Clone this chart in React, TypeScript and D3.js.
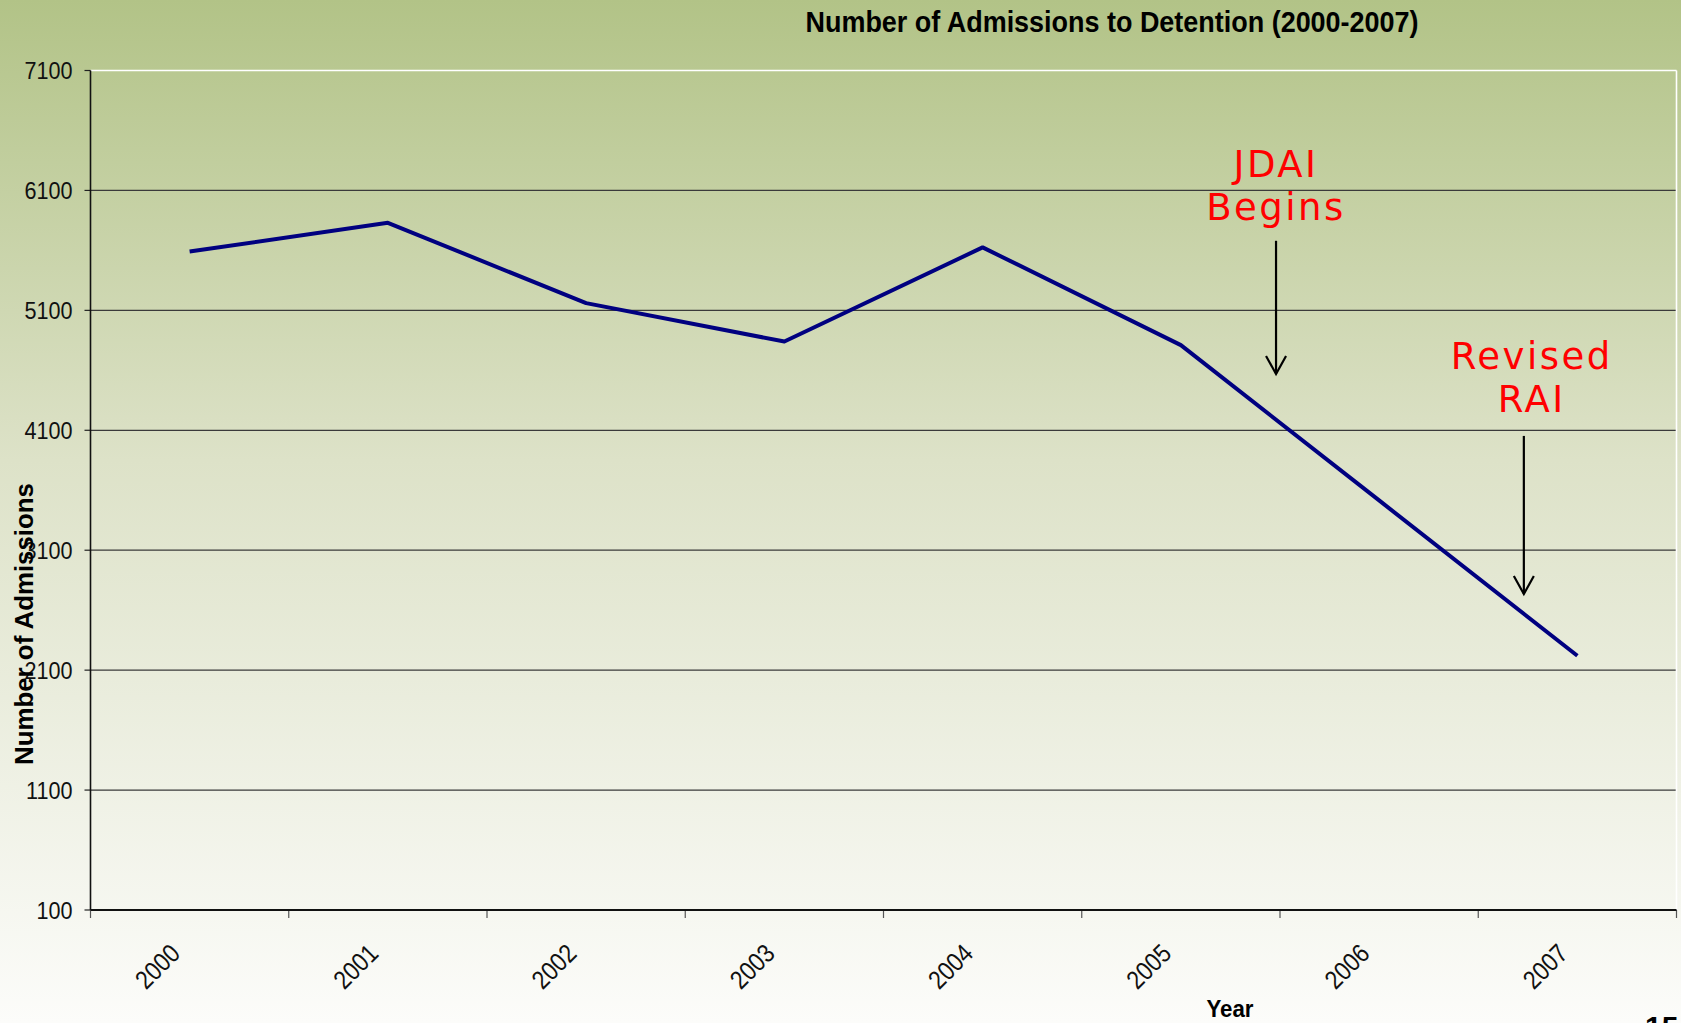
import React from "react";
import * as d3 from "d3";

const years = ["2000", "2001", "2002", "2003", "2004", "2005", "2006", "2007"];
const admissions = [5590, 5830, 5160, 4840, 5625, 4810, 3515, 2220];
const yTicks = [100, 1100, 2100, 3100, 4100, 5100, 6100, 7100];
const titleText = "Number of Admissions to Detention (2000-2007)";
const xTitle = "Year";
const yTitle = "Number of Admissions";
// annotations: position in category-index units and data units
const annotations = [
  { lines: ["JDAI", "Begins"], xi: 5.48, textDxi: 0.0, textY: [6213, 5855], arrowFrom: 5680, arrowTo: 4570 },
  { lines: ["Revised", "RAI"], xi: 6.73, textDxi: 0.04, textY: [4612, 4254], arrowFrom: 4053, arrowTo: 2735 },
];

const W = 1681;
const H = 1023;
const left = 90.5;
const right = 1676.5;
const top = 70.5;
const bottom = 910;

export default function App() {
  const x = d3.scaleBand<string>().domain(years).range([left, right]).padding(0);
  const bw = x.bandwidth();
  const y = d3.scaleLinear().domain([100, 7100]).range([bottom, top]);
  const xi = d3.scaleLinear().domain([-0.5, years.length - 0.5]).range([left, right]);
  const line = d3
    .line<number>()
    .x((_, i) => (x(years[i]) as number) + bw / 2)
    .y((d) => y(d));

  const narrow = "'Liberation Sans', Arial, sans-serif";

  return (
    <svg
      width={W}
      height={H}
      style={{ position: "fixed", left: 0, top: 0 }}
      xmlns="http://www.w3.org/2000/svg"
    >
      <defs>
        <linearGradient id="bg" x1="0" y1="0" x2="0" y2="1">
          <stop offset="0%" stopColor="#b2c387" />
          <stop offset="45%" stopColor="#dde2c8" />
          <stop offset="100%" stopColor="#fcfcfa" />
        </linearGradient>
      </defs>
      <rect x={0} y={0} width={W} height={H} fill="url(#bg)" />

      {/* gridlines */}
      {yTicks.map((t) => (
        <line
          key={"g" + t}
          x1={left}
          x2={right}
          y1={y(t)}
          y2={y(t)}
          stroke={t === 7100 ? "#ffffff" : "#3a3a3a"}
          strokeWidth={t === 7100 ? 1.6 : 1.2}
        />
      ))}
      {/* right border */}
      <line x1={right} x2={right} y1={top} y2={bottom} stroke="#ffffff" strokeWidth={1.6} />

      {/* y ticks + labels */}
      {yTicks.map((t) => (
        <g key={"yt" + t}>
          <line x1={left - 6} x2={left} y1={y(t)} y2={y(t)} stroke="#222" strokeWidth={1.2} />
          <text
            transform={`translate(${left - 18},${y(t) + 8.5}) scale(0.9,1)`}
            textAnchor="end"
            fontFamily={narrow}
            fontSize={24}
            fill="#111"
          >
            {t}
          </text>
        </g>
      ))}

      {/* x ticks */}
      {years.map((yr) => (
        <line
          key={"xt" + yr}
          x1={x(yr) as number}
          x2={x(yr) as number}
          y1={bottom}
          y2={bottom + 8}
          stroke="#555"
          strokeWidth={1.2}
        />
      ))}
      <line x1={right} x2={right} y1={bottom} y2={bottom + 8} stroke="#555" strokeWidth={1.2} />

      {/* x labels */}
      {years.map((yr) => (
        <text
          key={"xl" + yr}
          transform={`translate(${(x(yr) as number) + bw / 2 - 8},${bottom + 45}) rotate(-45) scale(0.87,1)`}
          textAnchor="end"
          fontFamily={narrow}
          fontSize={26}
          fill="#111"
        >
          {yr}
        </text>
      ))}

      {/* axes */}
      <line x1={left} x2={left} y1={top} y2={bottom} stroke="#111" strokeWidth={1.6} />
      <line x1={left} x2={right} y1={bottom} y2={bottom} stroke="#111" strokeWidth={2} />

      {/* data line */}
      <path d={line(admissions) || ""} fill="none" stroke="#000080" strokeWidth={4} strokeLinejoin="round" />

      {/* annotations */}
      {annotations.map((a, k) => {
        const ax = xi(a.xi);
        const tx = xi(a.xi + a.textDxi);
        const y0 = y(a.arrowFrom);
        const y1 = y(a.arrowTo);
        return (
          <g key={"an" + k}>
            {a.lines.map((l, j) => (
              <text
                key={j}
                x={tx}
                y={y(a.textY[j])}
                textAnchor="middle"
                fontFamily="'DejaVu Sans', Verdana, sans-serif"
                fontSize={37}
                letterSpacing={2.5}
                fill="#ff0000"
              >
                {l}
              </text>
            ))}
            <line x1={ax} x2={ax} y1={y0} y2={y1} stroke="#000" strokeWidth={2.2} />
            <polyline
              points={`${ax - 10},${y1 - 18} ${ax},${y1} ${ax + 10},${y1 - 18}`}
              fill="none"
              stroke="#000"
              strokeWidth={2.2}
            />
          </g>
        );
      })}

      {/* title */}
      <text
        x={1112}
        y={32}
        textAnchor="middle"
        fontFamily={narrow}
        fontWeight="bold"
        fontSize={29}
        textLength={613}
        lengthAdjust="spacingAndGlyphs"
        fill="#000"
      >
        {titleText}
      </text>

      {/* x title */}
      <text
        x={1230}
        y={1017}
        textAnchor="middle"
        fontFamily={narrow}
        fontWeight="bold"
        fontSize={24}
        textLength={47}
        lengthAdjust="spacingAndGlyphs"
        fill="#000"
      >
        {xTitle}
      </text>

      {/* y title */}
      <text
        transform={`translate(33,${(765 + 483) / 2}) rotate(-90)`}
        textAnchor="middle"
        fontFamily={narrow}
        fontWeight="bold"
        fontSize={25}
        textLength={282}
        lengthAdjust="spacingAndGlyphs"
        fill="#000"
      >
        {yTitle}
      </text>

      {/* slide page number, partly cut off as in the reference */}
      <text x={1645} y={1037} fontFamily={narrow} fontWeight="bold" fontSize={30} fill="#000">
        15
      </text>
    </svg>
  );
}
